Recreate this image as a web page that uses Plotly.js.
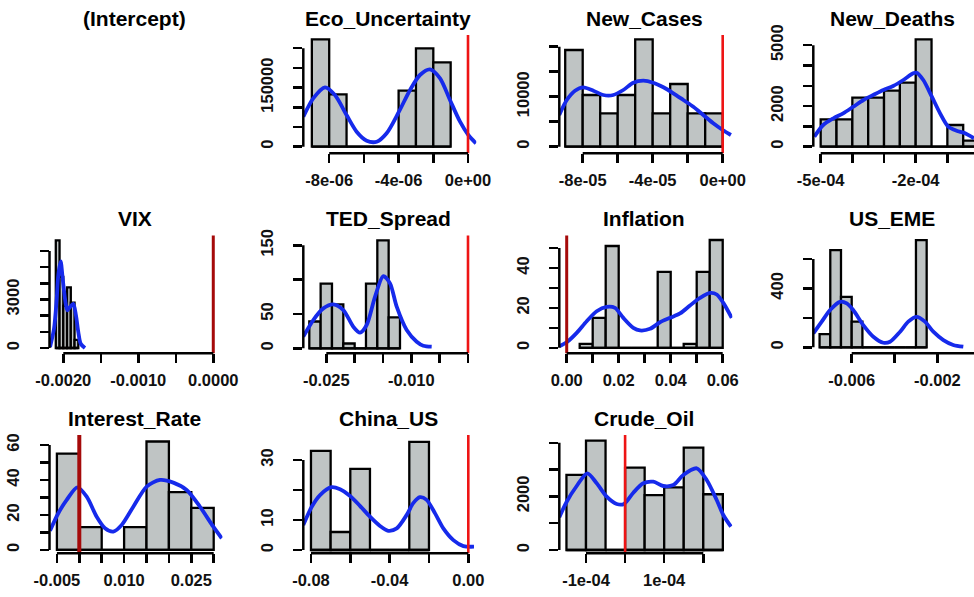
<!DOCTYPE html>
<html><head><meta charset="utf-8">
<script src="https://cdn.plot.ly/plotly-3.0.1.min.js"></script>
<style>html,body{margin:0;padding:0;background:#fff;}#chart{width:974px;height:597px;}</style>
</head><body><div id="chart"></div>
<script>
// ================= DATA =================
const panelTitles = ['(Intercept)','Eco_Uncertainty','New_Cases','New_Deaths','VIX','TED_Spread','Inflation','US_EME','Interest_Rate','China_US','Crude_Oil'];

// Eco_Uncertainty
const ecoEdges  = [-9e-6,-8e-6,-7e-6,-6e-6,-5e-6,-4e-6,-3e-6,-2e-6,-1e-6];
const ecoCounts = [272600,133000,0,0,0,142100,249700,214200];
const ecoDensX  = [-9.49e-6,-8.92e-6,-8.24e-6,-7.67e-6,-7.0e-6,-6.42e-6,-5.84e-6,-5.26e-6,-4.69e-6,-3.98e-6,-3.34e-6,-2.77e-6,-2.19e-6,-1.61e-6,-1.04e-6,-0.46e-6,0.02e-6,0.46e-6];
const ecoDensY  = [76100,122800,150800,131200,80400,38100,15200,12700,34000,88800,143900,182000,196400,173600,118500,63500,29700,8600];
const ecoRef = 0;
const ecoXTicks = [-8e-6,-6e-6,-4e-6,-2e-6,0];
const ecoXLabels = ['-8e-06','','-4e-06','','0e+00'];
const ecoYTicks = [0,50000,100000,150000,200000,250000];
const ecoYLabels = ['0','','','150000','',''];

// New_Cases
const casEdges  = [-9e-5,-8e-5,-7e-5,-6e-5,-5e-5,-4e-5,-3e-5,-2e-5,-1e-5,0];
const casCounts = [19340,10340,6680,10340,21480,6680,12540,6680,6680];
const casDensX  = [-9.34e-5,-8.91e-5,-8.44e-5,-7.97e-5,-7.39e-5,-6.82e-5,-6.25e-5,-5.68e-5,-5.11e-5,-4.54e-5,-3.97e-5,-3.39e-5,-2.82e-5,-2.25e-5,-1.68e-5,-1.11e-5,-0.54e-5,0,0.47e-5];
const casDensY  = [6340,9340,11200,11880,11200,10340,10340,11340,12800,13200,12800,11880,10680,9340,8000,6340,4680,3340,2340];
const casRef = 0;
const casXTicks = [-8e-5,-6e-5,-4e-5,-2e-5,0];
const casXLabels = ['-8e-05','','-4e-05','','0e+00'];
const casYTicks = [0,5000,10000,15000,20000];
const casYLabels = ['0','','10000','',''];

// New_Deaths
const dthEdges  = [-5e-4,-4.5e-4,-4e-4,-3.5e-4,-3e-4,-2.5e-4,-2e-4,-1.5e-4,-1e-4,-0.5e-4,0];
const dthCounts = [1350,1350,2414,2414,2759,3153,5290,0,1069,296];
const dthDensX  = [-5.20e-4,-4.92e-4,-4.60e-4,-4.29e-4,-3.97e-4,-3.65e-4,-3.34e-4,-3.02e-4,-2.71e-4,-2.39e-4,-2.08e-4,-1.97e-4,-1.76e-4,-1.49e-4,-1.23e-4,-0.97e-4,-0.71e-4,-0.44e-4,-0.16e-4];
const dthDensY  = [493,1069,1399,1645,1970,2300,2547,2793,2990,3286,3616,3645,3286,2463,1645,985,788,660,414];
const dthRef = 0;
const dthXTicks = [-5e-4,-4e-4,-3e-4,-2e-4,-1e-4,0];
const dthXLabels = ['-5e-04','','','-2e-04','',''];
const dthYTicks = [0,1000,2000,3000,4000,5000];
const dthYLabels = ['0','','2000','','','5000'];

// VIX
const vixEdges  = [-0.00210,-0.00205,-0.00200,-0.00195,-0.00190,-0.00185,-0.00180];
const vixCounts = [6650,4400,2600,3750,2800,500];
const vixDensX  = [-0.002177,-0.002124,-0.002088,-0.002067,-0.002035,-0.002008,-0.001977,-0.001947,-0.001911,-0.001867,-0.001831,-0.001800,-0.001768,-0.001711];
const vixDensY  = [60,1190,3040,4490,5350,4280,3040,2330,2530,2730,2020,990,265,0];
const vixRef = 0;
const vixXTicks = [-0.0020,-0.0015,-0.0010,-0.0005,0];
const vixXLabels = ['-0.0020','','-0.0010','','0.0000'];
const vixYTicks = [0,1000,2000,3000,4000,5000,6000];
const vixYLabels = ['0','','','3000','','',''];

// TED_Spread
const tedEdges  = [-0.028,-0.026,-0.024,-0.022,-0.020,-0.018,-0.016,-0.014,-0.012];
const tedCounts = [39,94,64,7,0,94,157,45];
const tedDensX  = [-0.02906,-0.02730,-0.02553,-0.02377,-0.02200,-0.02024,-0.01906,-0.01788,-0.01641,-0.01494,-0.01376,-0.01258,-0.01082,-0.00905,-0.00789,-0.00641];
const tedDensY  = [16.9,41.1,58.1,64.0,55.7,31.4,22.7,33.9,75.0,105.1,94.5,60.5,26.6,9.6,3.8,2.3];
const tedRef = 0;
const tedXTicks = [-0.025,-0.020,-0.015,-0.010,-0.005,0];
const tedXLabels = ['-0.025','','','-0.010','',''];
const tedYTicks = [0,50,100,150];
const tedYLabels = ['0','50','','150'];

// Inflation
const infEdges  = [0.005,0.010,0.015,0.020,0.025,0.030,0.035,0.040,0.045,0.050,0.055,0.060];
const infCounts = [2,15,51,0,0,0,38,0,2,38,54];
const infDensX  = [-0.00285,0,0.00385,0.00769,0.01154,0.01538,0.01858,0.02177,0.02562,0.02819,0.03204,0.03588,0.03973,0.04358,0.04742,0.05127,0.05512,0.05769,0.06023,0.06346];
const infDensY  = [0.8,2.8,7.5,13.3,18.3,20.5,20.0,15.0,10.0,8.7,9.5,12.8,15.0,17.2,21.2,25.0,27.5,26.7,22.5,15.0];
const infRef = 0;
const infXTicks = [0,0.01,0.02,0.03,0.04,0.05,0.06];
const infXLabels = ['0.00','','0.02','','0.04','','0.06'];
const infYTicks = [0,10,20,30,40,50];
const infYLabels = ['0','','20','','40',''];

// US_EME
const emeEdges  = [-0.0075,-0.0070,-0.0065,-0.0060,-0.0055,-0.0050,-0.0045,-0.0040,-0.0035,-0.0030,-0.0025];
const emeCounts = [90,660,343,174,0,0,0,0,0,727];
const emeDensX  = [-0.00779,-0.00740,-0.00701,-0.00655,-0.00623,-0.00593,-0.00546,-0.00499,-0.00452,-0.00421,-0.00374,-0.00336,-0.00297,-0.00258,-0.00219,-0.00172,-0.00126,-0.00079];
const emeDensY  = [95,174,253,309,298,253,151,72,31,38,106,174,207,174,106,49,16,4];
const emeRef = 0;
const emeXTicks = [-0.006,-0.004,-0.002,0];
const emeXLabels = ['-0.006','','-0.002',''];
const emeYTicks = [0,200,400,600];
const emeYLabels = ['0','','400',''];

// Interest_Rate
const irEdges  = [-0.005,0,0.005,0.010,0.015,0.020,0.025,0.030];
const irCounts = [55,13,0,13,62,33,24];
const irDensX  = [-0.00654,-0.00469,-0.00281,-0.00045,0.00165,0.00388,0.00574,0.00759,0.00946,0.01205,0.01504,0.01801,0.02098,0.02396,0.02694,0.02991,0.03179];
const irDensY  = [11.0,21.0,28.6,35.8,30.5,19.0,12.4,10.5,14.3,24.7,36.2,40.0,38.5,34.3,24.7,13.3,6.7];
const irRef = 0;
const irXTicks = [-0.005,0,0.005,0.010,0.015,0.020,0.025,0.030];
const irXLabels = ['-0.005','','','0.010','','','0.025',''];
const irYTicks = [0,10,20,30,40,50,60];
const irYLabels = ['0','','20','','40','','60'];

// China_US
const cuEdges  = [-0.08,-0.07,-0.06,-0.05,-0.04,-0.03,-0.02];
const cuCounts = [33,6,27,0,0,36];
const cuDensX  = [-0.0839,-0.0796,-0.0754,-0.0695,-0.0652,-0.0601,-0.0551,-0.0500,-0.0449,-0.0407,-0.0364,-0.0313,-0.0280,-0.0246,-0.0212,-0.0169,-0.0127,-0.0076,-0.0025,0.0029];
const cuDensY  = [8.3,14.4,18.3,20.9,20.2,18.0,14.7,11.1,8.0,6.4,7.2,11.7,15.6,17.6,16.7,12.2,7.2,3.3,1.3,1.1];
const cuRef = 0;
const cuXTicks = [-0.08,-0.06,-0.04,-0.02,0];
const cuXLabels = ['-0.08','','-0.04','','0.00'];
const cuYTicks = [0,10,20,30];
const cuYLabels = ['0','10','','30'];

// Crude_Oil
const coEdges  = [-1.5e-4,-1.0e-4,-0.5e-4,0,0.5e-4,1.0e-4,1.5e-4,2.0e-4,2.5e-4];
const coCounts = [2800,4080,0,3070,2050,2340,3820,2080];
const coDensX  = [-1.683e-4,-1.494e-4,-1.238e-4,-0.967e-4,-0.726e-4,-0.471e-4,-0.215e-4,-0.028e-4,0.210e-4,0.465e-4,0.721e-4,0.977e-4,1.233e-4,1.489e-4,1.831e-4,2.087e-4,2.343e-4,2.512e-4,2.708e-4];
const coDensY  = [1220,1802,2388,2862,2489,1989,1716,1716,2138,2489,2549,2388,2425,2799,3048,2612,1866,1306,869];
const coRef = 0;
const coXTicks = [-1e-4,0,1e-4,2e-4];
const coXLabels = ['-1e-04','','1e-04',''];
const coYTicks = [0,1000,2000,3000,4000];
const coYLabels = ['0','','2000','',''];

// ================= LAYOUT / STYLE =================
const W = 974, H = 597;
const colPx = [[49.5,222.5],[303.3,476.3],[559.3,732.3],[813.3,974]];
const rowPx = [[35,153.3],[235.5,353.3],[435,553.3]];
const titleY = [18.3,218.3,418.3];
const RED = 'rgb(238,20,20)', DARKRED = 'rgb(165,10,10)';
const BLUE = 'rgb(22,42,235)', FILL = '#bfc4c4';
const FONT = 'Liberation Sans, Arial, Helvetica, sans-serif';

const panels = [
  {row:0,col:0},
  {row:0,col:1,e:ecoEdges,c:ecoCounts,dx:ecoDensX,dy:ecoDensY,ref:ecoRef,rc:RED,rw:2.6,xt:ecoXTicks,xl:ecoXLabels,yt:ecoYTicks,yl:ecoYLabels,xr:[-9.493e-6,0.478e-6],yr:[-16750,283500]},
  {row:0,col:2,e:casEdges,c:casCounts,dx:casDensX,dy:casDensY,ref:casRef,rc:RED,rw:2.6,xt:casXTicks,xl:casXLabels,yt:casYTicks,yl:casYLabels,xr:[-9.337e-5,0.549e-5],yr:[-1320,22340]},
  {row:0,col:3,e:dthEdges,c:dthCounts,dx:dthDensX,dy:dthDensY,ref:dthRef,rc:RED,rw:2.6,xt:dthXTicks,xl:dthXLabels,yt:dthYTicks,yl:dthYLabels,xr:[-5.233e-4,-0.159e-4],yr:[-325,5502]},
  {row:1,col:0,e:vixEdges,c:vixCounts,dx:vixDensX,dy:vixDensY,ref:vixRef,rc:DARKRED,rw:3,xt:vixXTicks,xl:vixXLabels,yt:vixYTicks,yl:vixYLabels,xr:[-0.002184,0.000123],yr:[-327,6957]},
  {row:1,col:1,e:tedEdges,c:tedCounts,dx:tedDensX,dy:tedDensY,ref:tedRef,rc:RED,rw:2.6,xt:tedXTicks,xl:tedXLabels,yt:tedYTicks,yl:tedYLabels,xr:[-0.02906,0.001465],yr:[-7.3,164.2]},
  {row:1,col:2,e:infEdges,c:infCounts,dx:infDensX,dy:infDensY,ref:infRef,rc:DARKRED,rw:3,xt:infXTicks,xl:infXLabels,yt:infYTicks,yl:infYLabels,xr:[-0.002846,0.06369],yr:[-2.75,56.25]},
  {row:1,col:3,e:emeEdges,c:emeCounts,dx:emeDensX,dy:emeDensY,ref:emeRef,rc:RED,rw:2.6,xt:emeXTicks,xl:emeXLabels,yt:emeYTicks,yl:emeYLabels,xr:[-0.007793,-0.000290],yr:[-40.7,759]},
  {row:2,col:0,e:irEdges,c:irCounts,dx:irDensX,dy:irDensY,ref:irRef,rc:DARKRED,rw:4,xt:irXTicks,xl:irXLabels,yt:irYTicks,yl:irYLabels,xr:[-0.006652,0.031964],yr:[-1.9,65.7]},
  {row:2,col:1,e:cuEdges,c:cuCounts,dx:cuDensX,dy:cuDensY,ref:cuRef,rc:RED,rw:2.6,xt:cuXTicks,xl:cuXLabels,yt:cuYTicks,yl:cuYLabels,xr:[-0.08390,0.004068],yr:[-1.1,38.3]},
  {row:2,col:2,e:coEdges,c:coCounts,dx:coDensX,dy:coDensY,ref:coRef,rc:RED,rw:2.6,xt:coXTicks,xl:coXLabels,yt:coYTicks,yl:coYLabels,xr:[-1.683e-4,2.742e-4],yr:[-123,4291]}
];

const traces = [], shapes = [], annotations = [];
const layout = {
  width: W, height: H, margin:{l:0,r:0,t:0,b:0},
  paper_bgcolor:'#fff', plot_bgcolor:'rgba(0,0,0,0)',
  showlegend:false, barmode:'overlay',
  font:{family:FONT,color:'#000'}
};

let k = 0;
panels.forEach((p,i) => {
  const cx = (colPx[p.col][0]+colPx[p.col][1])/2 - 1.5;
  annotations.push({text:panelTitles[i], xref:'paper', yref:'paper', x:cx/W, y:1-titleY[p.row]/H,
    xanchor:'center', yanchor:'middle', showarrow:false,
    font:{family:FONT,size:21,weight:'bold',color:'#000'}});
  if (!p.e) return;
  k += 1;
  const sx = k===1 ? '' : String(k);
  const xa = 'x'+sx, ya = 'y'+sx;
  const tickfont = {family:FONT,size:16.5,weight:'bold',color:'#111'};
  layout['xaxis'+sx] = {domain:[colPx[p.col][0]/W, colPx[p.col][1]/W], anchor:ya, range:p.xr,
    tickmode:'array', tickvals:p.xt, ticktext:p.xl, ticks:'outside', ticklen:9, tickwidth:2.5, tickcolor:'#000',
    ticklabelstandoff:3,
    showline:false, showgrid:false, zeroline:false, tickangle:0, tickfont:tickfont, fixedrange:true};
  layout['yaxis'+sx] = {domain:[1-rowPx[p.row][1]/H, 1-rowPx[p.row][0]/H], anchor:xa, range:p.yr,
    tickmode:'array', tickvals:p.yt, ticktext:p.yl, ticks:'outside', ticklen:9, tickwidth:2.5, tickcolor:'#000',
    ticklabelstandoff:14,
    showline:false, showgrid:false, zeroline:false, tickangle:-90, tickfont:tickfont, fixedrange:true};
  // histogram bars
  const centers = [], widths = [];
  for (let j=0;j<p.c.length;j++){ centers.push((p.e[j]+p.e[j+1])/2); widths.push(p.e[j+1]-p.e[j]); }
  traces.push({type:'bar', x:centers, y:p.c, width:widths, xaxis:xa, yaxis:ya,
    marker:{color:FILL, line:{color:'#000', width:2.3}}, hoverinfo:'skip'});
  // zero-height bins drawn as a base line (as R's hist rectangles do)
  traces.push({type:'scatter', mode:'lines', x:[p.e[0], p.e[p.e.length-1]], y:[0,0], xaxis:xa, yaxis:ya,
    line:{color:'#000', width:2.3}, hoverinfo:'skip'});
  // density curve
  traces.push({type:'scatter', mode:'lines', x:p.dx, y:p.dy, xaxis:xa, yaxis:ya,
    line:{color:BLUE, width:3.8, shape:'spline', smoothing:0.8}, hoverinfo:'skip'});
  // reference line
  shapes.push({type:'line', xref:xa, yref:ya+' domain', x0:p.ref, x1:p.ref, y0:0, y1:1,
    line:{color:p.rc, width:p.rw}, layer:'above'});
  // R-style axis lines (from first to last tick)
  shapes.push({type:'line', xref:xa, yref:ya+' domain', x0:p.xt[0], x1:p.xt[p.xt.length-1], y0:0, y1:0,
    line:{color:'#000', width:2.5}, layer:'above'});
  shapes.push({type:'line', xref:xa+' domain', yref:ya, x0:0, x1:0, y0:p.yt[0], y1:p.yt[p.yt.length-1],
    line:{color:'#000', width:2.5}, layer:'above'});
});
layout.shapes = shapes;
layout.annotations = annotations;

Plotly.newPlot('chart', traces, layout, {staticPlot:true, displayModeBar:false});
</script>
</body></html>
